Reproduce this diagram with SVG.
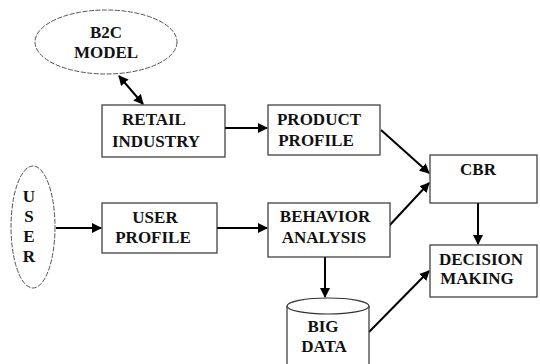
<svg xmlns="http://www.w3.org/2000/svg" width="540" height="364" viewBox="0 0 540 364">
<defs>
<style>
.box{fill:#fff;stroke:#333;stroke-width:1.2}
.ell{fill:#fff;stroke:#555;stroke-width:1;stroke-dasharray:5 1.5}
.t{font-family:'Liberation Serif','Times New Roman',Times,serif;font-weight:700;font-size:17px;fill:#111;text-anchor:middle}
.c{fill:none;stroke:#000;stroke-width:2}
</style>
<marker id="ah" viewBox="0 0 10 10" refX="9" refY="5" markerWidth="5" markerHeight="5" orient="auto-start-reverse">
<path d="M0,0 L10,5 L0,10 z" fill="#000"/>
</marker>
</defs>
<rect width="540" height="364" fill="#fff"/>
<g id="connectors">
<line class="c" x1="119" y1="76" x2="143" y2="104" marker-start="url(#ah)" marker-end="url(#ah)"/>
<line class="c" x1="225" y1="128" x2="267" y2="128" marker-end="url(#ah)"/>
<line class="c" x1="381" y1="130" x2="429" y2="173" marker-end="url(#ah)"/>
<line class="c" x1="388" y1="227" x2="429" y2="183" marker-end="url(#ah)"/>
<line class="c" x1="56" y1="228" x2="101" y2="228" marker-end="url(#ah)"/>
<line class="c" x1="217" y1="228" x2="267" y2="228" marker-end="url(#ah)"/>
<line class="c" x1="478" y1="203" x2="478" y2="244" marker-end="url(#ah)"/>
<line class="c" x1="325" y1="257" x2="325" y2="297" marker-end="url(#ah)"/>
<line class="c" x1="369" y1="332" x2="429" y2="271" marker-end="url(#ah)"/>
</g>
<g id="b2c">
<ellipse class="ell" cx="106" cy="42" rx="71" ry="32"/>
<text class="t" x="106" y="38">B2C</text>
<text class="t" x="106" y="58">MODEL</text>
</g>
<g id="retail">
<rect class="box" x="102" y="105" width="123" height="52"/>
<text class="t" x="154" y="125">RETAIL</text>
<text class="t" x="156" y="147">INDUSTRY</text>
</g>
<g id="product">
<rect class="box" x="268" y="105" width="112" height="50"/>
<text class="t" x="319" y="125">PRODUCT</text>
<text class="t" x="316" y="146">PROFILE</text>
</g>
<g id="cbr">
<rect class="box" x="430" y="155" width="107" height="48"/>
<text class="t" x="478" y="175">CBR</text>
</g>
<g id="user">
<ellipse class="ell" cx="33" cy="227" rx="22" ry="61"/>
<text class="t" x="29" y="202">U</text>
<text class="t" x="29" y="222">S</text>
<text class="t" x="29" y="242">E</text>
<text class="t" x="29" y="262">R</text>
</g>
<g id="userprofile">
<rect class="box" x="102" y="203" width="115" height="50"/>
<text class="t" x="155" y="223">USER</text>
<text class="t" x="153" y="243">PROFILE</text>
</g>
<g id="behavior">
<rect class="box" x="268" y="203" width="122" height="54"/>
<text class="t" x="325" y="222">BEHAVIOR</text>
<text class="t" x="324" y="243">ANALYSIS</text>
</g>
<g id="decision">
<rect class="box" x="430" y="245" width="107" height="52"/>
<text class="t" x="481" y="265">DECISION</text>
<text class="t" x="477" y="284">MAKING</text>
</g>
<g id="bigdata">
<rect x="287" y="306" width="82" height="60" fill="#fff"/>
<path d="M287,306 L287,364 M369,306 L369,364" fill="none" stroke="#333" stroke-width="1.2"/>
<ellipse cx="328" cy="306" rx="41" ry="8" fill="#fff" stroke="#333" stroke-width="1.2"/>
<text class="t" x="323" y="332">BIG</text>
<text class="t" x="324" y="352">DATA</text>
</g>
</svg>
